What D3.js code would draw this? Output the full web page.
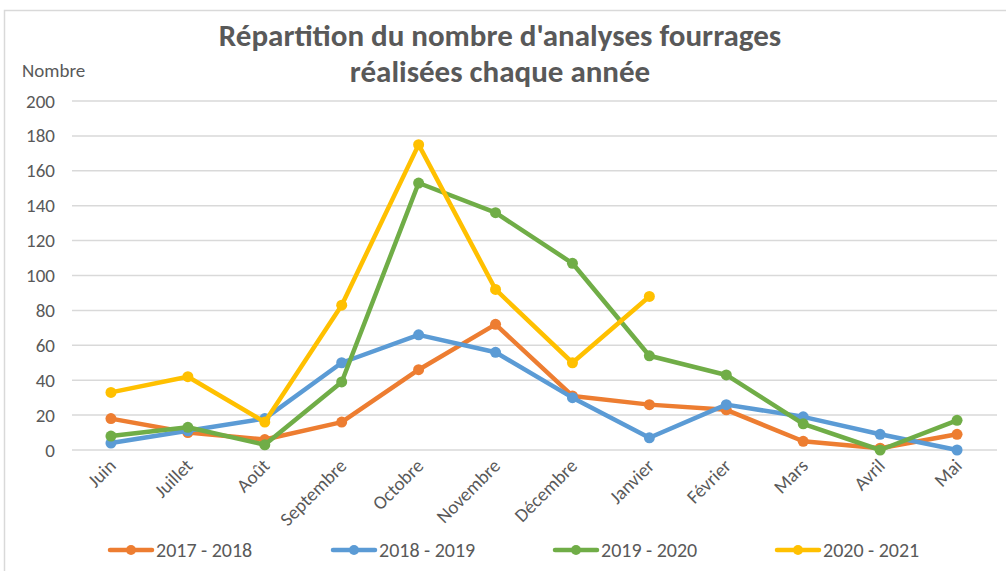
<!DOCTYPE html>
<html><head><meta charset="utf-8">
<script src="https://cdn.jsdelivr.net/npm/d3@7"></script>
<style>body{margin:0;background:#fff}svg{display:block}</style>
</head><body>
<svg id="c" width="1006" height="571"></svg>
<script>
const months = ["Juin","Juillet","Août","Septembre","Octobre","Novembre","Décembre","Janvier","Février","Mars","Avril","Mai"];
const seriesNames = ["2017 - 2018","2018 - 2019","2019 - 2020","2020 - 2021"];
const s2017 = [18,10,6,16,46,72,31,26,23,5,1,9];
const s2018 = [4,11,18,50,66,56,30,7,26,19,9,0];
const s2019 = [8,13,3,39,153,136,107,54,43,15,0,17];
const s2020 = [33,42,16,83,175,92,50,88,null,null,null,null];
const colors = ["#ED7D31","#5B9BD5","#70AD47","#FFC000"];
const yTicks = [0,20,40,60,80,100,120,140,160,180,200];
const titleLines = ["Répartition du nombre d'analyses fourrages","réalisées chaque année"];
const yLabel = "Nombre";

const allSeries = [s2017,s2018,s2019,s2020];
const font = "Carlito, Calibri, 'Open Sans', sans-serif";
const txt = "#595959";
const svg = d3.select("#c");

svg.append("rect").attr("x",4.5).attr("y",10.5).attr("width",1010).attr("height",600)
  .attr("fill","#fff").attr("stroke","#d9d9d9").attr("stroke-width",1.5);

const x = d3.scaleBand().domain(months).range([72.5,995.5]);
const y = d3.scaleLinear().domain([0,200]).range([450,101]);

// gridlines
svg.append("g").selectAll("line").data(yTicks).join("line")
  .attr("x1",72).attr("x2",997).attr("y1",d=>y(d)).attr("y2",d=>y(d))
  .attr("stroke","#d9d9d9").attr("stroke-width",1.5);

// y axis labels
const yAxis = svg.append("g").attr("transform","translate(55,0)")
  .call(d3.axisLeft(y).tickValues(yTicks).tickSize(0).tickPadding(0));
yAxis.select(".domain").remove();
yAxis.selectAll("text").attr("font-family",font).attr("font-size",19).attr("fill",txt);

svg.append("text").attr("x",22).attr("y",77).text(yLabel)
  .attr("font-family",font).attr("font-size",19).attr("fill",txt);

// x axis labels
const xAxis = svg.append("g").attr("transform","translate(0,450)")
  .call(d3.axisBottom(x).tickSize(0).tickPadding(0));
xAxis.select(".domain").remove();
xAxis.selectAll("text")
  .attr("font-family",font).attr("font-size",19).attr("fill",txt)
  .attr("text-anchor","end").attr("dy",0)
  .attr("transform","translate(6,17) rotate(-45)");

// title
svg.append("g").selectAll("text").data(titleLines).join("text")
  .attr("x",500).attr("y",(d,i)=>46+i*36).attr("text-anchor","middle")
  .attr("font-family",font).attr("font-weight","bold").attr("font-size",31).attr("fill",txt)
  .text(d=>d);

// series
const line = d3.line().defined(d=>d.v!=null).x(d=>x(d.m)+x.bandwidth()/2).y(d=>y(d.v));
allSeries.forEach((s,i)=>{
  const data = months.map((m,j)=>({m, v:s[j]}));
  const g = svg.append("g");
  g.append("path").datum(data).attr("d",line).attr("fill","none")
    .attr("stroke",colors[i]).attr("stroke-width",4.5).attr("stroke-linejoin","round").attr("stroke-linecap","round");
  g.selectAll("circle").data(data.filter(d=>d.v!=null)).join("circle")
    .attr("cx",d=>x(d.m)+x.bandwidth()/2).attr("cy",d=>y(d.v)).attr("r",5.5).attr("fill",colors[i]);
});

// legend
const legX = [110,333,555,777];
const leg = svg.append("g").selectAll("g").data(seriesNames).join("g")
  .attr("transform",(d,i)=>`translate(${legX[i]},550)`);
leg.append("line").attr("x1",0).attr("x2",42).attr("stroke",(d,i)=>colors[i]).attr("stroke-width",4.5).attr("stroke-linecap","round");
leg.append("circle").attr("cx",21).attr("r",5).attr("fill",(d,i)=>colors[i]);
leg.append("text").attr("x",46).attr("y",7).text(d=>d)
  .attr("font-family",font).attr("font-size",20).attr("fill",txt);
</script>
</body></html>
